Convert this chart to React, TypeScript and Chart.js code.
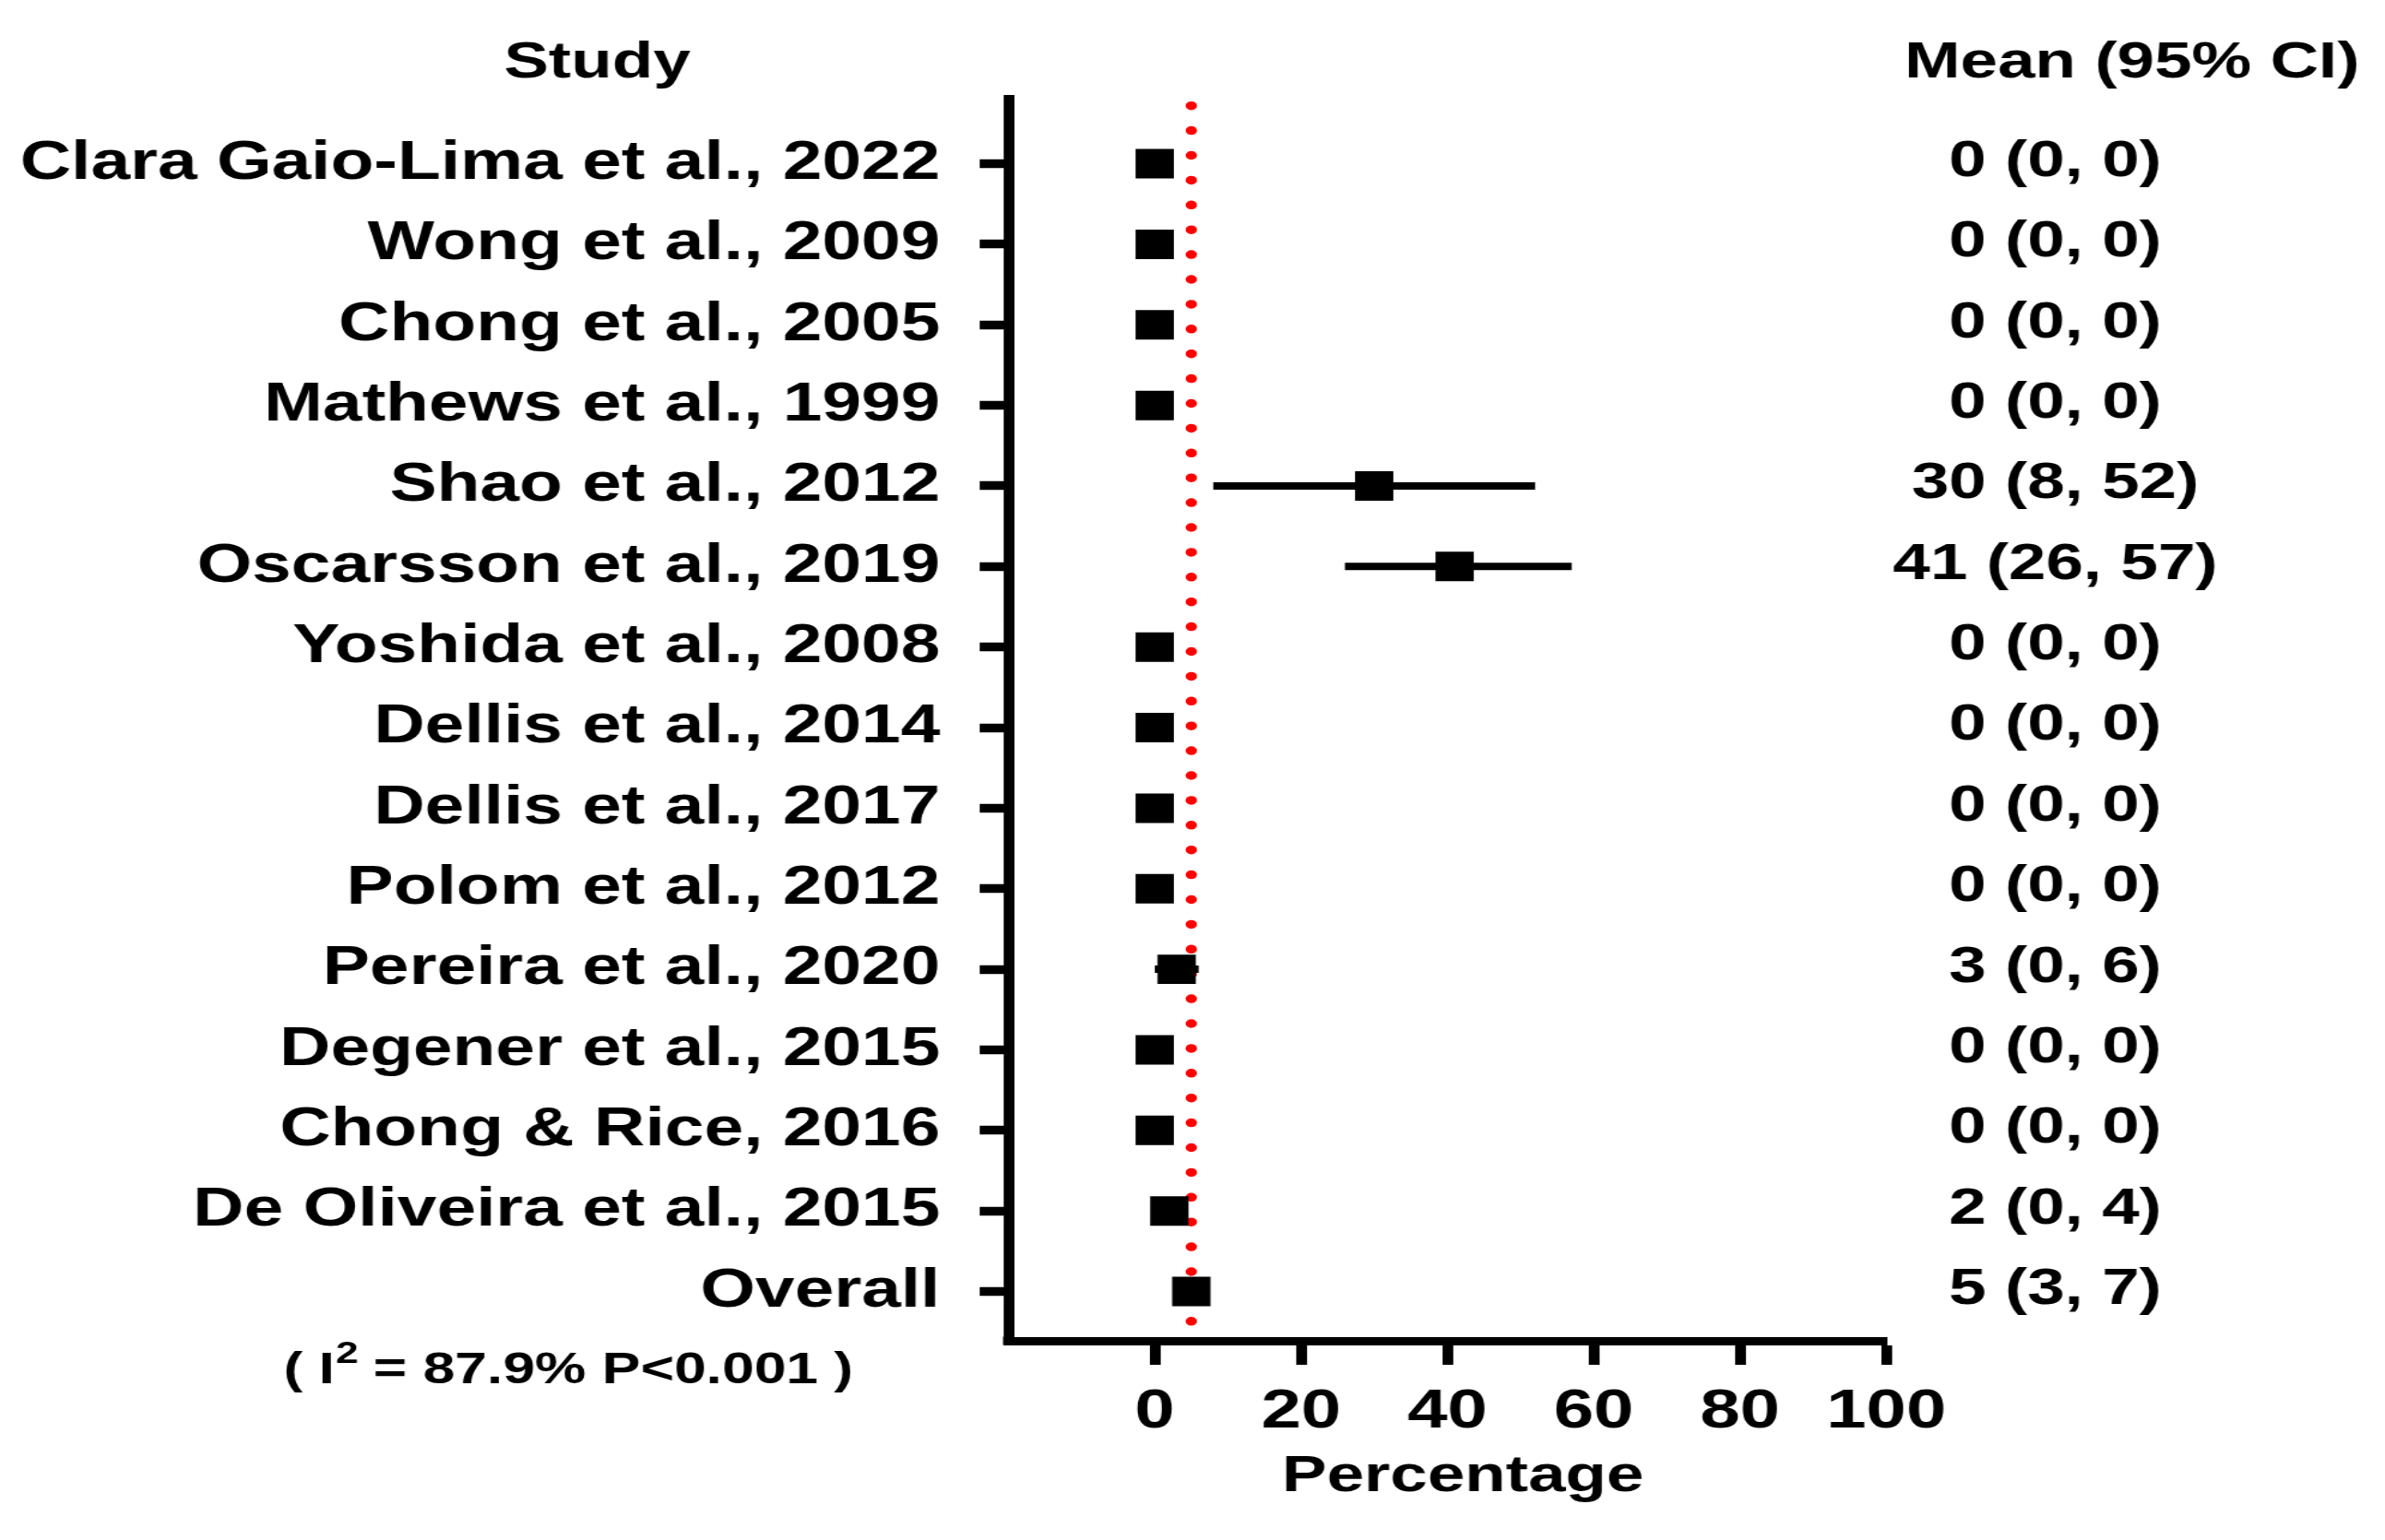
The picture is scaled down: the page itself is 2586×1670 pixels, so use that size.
import React, { useEffect, useRef } from "react";
import { Chart, registerables } from "chart.js";

Chart.register(...registerables);

// ---------- data ----------
const studies: string[] = [
  "Clara Gaio-Lima et al., 2022",
  "Wong et al., 2009",
  "Chong et al., 2005",
  "Mathews et al., 1999",
  "Shao et al., 2012",
  "Oscarsson et al., 2019",
  "Yoshida et al., 2008",
  "Dellis et al., 2014",
  "Dellis et al., 2017",
  "Polom et al., 2012",
  "Pereira et al., 2020",
  "Degener et al., 2015",
  "Chong & Rice, 2016",
  "De Oliveira et al., 2015",
  "Overall",
];
const means: number[] = [0, 0, 0, 0, 30, 41, 0, 0, 0, 0, 3, 0, 0, 2, 5];
const lowerCI: number[] = [0, 0, 0, 0, 8, 26, 0, 0, 0, 0, 0, 0, 0, 0, 3];
const upperCI: number[] = [0, 0, 0, 0, 52, 57, 0, 0, 0, 0, 6, 0, 0, 4, 7];
const xTickValues: number[] = [0, 20, 40, 60, 80, 100];
const xTitle = "Percentage";
const overallMean = 5;
const i2Value = "87.9%";
const pText = "P<0.001";

// ---------- layout ----------
const STRETCH = 1.3; // the reference figure is stretched horizontally
const FULL_W = 2586;
const FULL_H = 1670;
const W = Math.round(FULL_W / STRETCH);
const H = FULL_H;
const FONT = '"Liberation Sans", Arial, Helvetica, sans-serif';

export default function App() {
  const ref = useRef<HTMLCanvasElement | null>(null);

  useEffect(() => {
    const canvas = ref.current;
    if (!canvas) return;

    const ciDatasets: any[] = [];
    studies.forEach((_, i) => {
      if (upperCI[i] > lowerCI[i]) {
        ciDatasets.push({
          label: "ci-" + i,
          data: [
            { x: lowerCI[i], y: i },
            { x: upperCI[i], y: i },
          ],
          showLine: true,
          borderColor: "#000",
          borderWidth: 8,
          pointRadius: 0,
          order: 1,
        });
      }
    });

    const textPlugin = {
      id: "forestText",
      afterDraw(chart: any) {
        const ctx = chart.ctx as CanvasRenderingContext2D;
        const yScale = chart.scales.y;
        const area = chart.chartArea;
        ctx.save();
        ctx.fillStyle = "#000";
        // fill the axis corner
        ctx.fillRect(area.left - 4.5, area.bottom - 4.5, 9, 9);

        // headers
        ctx.font = `bold 56px ${FONT}`;
        ctx.textAlign = "center";
        ctx.textBaseline = "middle";
        ctx.fillText("Study", 498, 69);
        ctx.fillText("Mean (95% CI)", 1778, 69);

        // x axis title
        ctx.font = `bold 56px ${FONT}`;
        ctx.fillText(xTitle, 1220, 1602);

        // right-hand column
        ctx.font = `bold 56px ${FONT}`;
        studies.forEach((_, i) => {
          const y = yScale.getPixelForValue(i) - 2;
          ctx.fillText(`${means[i]} (${lowerCI[i]}, ${upperCI[i]})`, 1714, y);
        });

        // heterogeneity footnote
        const a = "( I";
        const b = "2";
        const c = ` = ${i2Value} ${pText} )`;
        ctx.textAlign = "left";
        ctx.textBaseline = "alphabetic";
        ctx.font = `bold 48px ${FONT}`;
        const wa = ctx.measureText(a).width;
        const wc = ctx.measureText(c).width;
        ctx.font = `bold 34px ${FONT}`;
        const wb = ctx.measureText(b).width;
        const x0 = 474 - (wa + wb + wc) / 2;
        const base = 1500;
        ctx.font = `bold 48px ${FONT}`;
        ctx.fillText(a, x0, base);
        ctx.fillText(c, x0 + wa + wb, base);
        ctx.font = `bold 34px ${FONT}`;
        ctx.fillText(b, x0 + wa + 1, base - 22);
        ctx.restore();
      },
    };

    const chart = new Chart(canvas, {
      type: "scatter",
      data: {
        datasets: [
          {
            label: "overall",
            data: [
              { x: overallMean, y: -0.72 },
              { x: overallMean, y: 14.37 },
            ],
            showLine: true,
            borderColor: "#ff0000",
            borderWidth: 9.5,
            borderDash: [0, 26.9],
            borderCapStyle: "round",
            pointRadius: 0,
            order: 2,
          } as any,
          ...ciDatasets,
          {
            label: "mean",
            data: means.map((m, i) => ({ x: m, y: i })),
            pointStyle: "rect",
            pointRadius: 22.6,
            pointBackgroundColor: "#000",
            pointBorderWidth: 0,
            backgroundColor: "#000",
            borderColor: "#000",
            showLine: false,
            order: 0,
          } as any,
        ],
      },
      options: {
        animation: false,
        responsive: false,
        devicePixelRatio: 1,
        events: [],
        layout: { padding: { top: 107, right: W - 1573, bottom: 0, left: 0 } },
        plugins: {
          legend: { display: false },
          tooltip: { enabled: false },
          title: { display: false },
        },
        scales: {
          x: {
            type: "linear",
            min: -20,
            max: 100,
            afterBuildTicks: (s: any) => {
              s.ticks = xTickValues.map((v) => ({ value: v }));
            },
            afterFit: (s: any) => {
              s.height = 216;
            },
            ticks: {
              padding: 15,
              color: "#000",
              maxRotation: 0,
              autoSkip: false,
              font: { family: FONT, size: 60, weight: "bold" },
            },
            grid: {
              drawOnChartArea: false,
              drawTicks: true,
              tickLength: 26,
              tickWidth: 9,
              tickColor: "#000",
            },
            border: { display: true, color: "#000", width: 9 },
          },
          y: {
            type: "linear",
            reverse: true,
            min: -0.808,
            max: 14.612,
            afterBuildTicks: (s: any) => {
              s.ticks = studies.map((_, i) => ({ value: i }));
            },
            afterFit: (s: any) => {
              s.width = 841;
            },
            ticks: {
              autoSkip: false,
              padding: 33,
              color: "#000",
              font: { family: FONT, size: 59, weight: "bold" },
              callback: (v: any) => studies[Math.round(Number(v))] ?? "",
            },
            grid: {
              drawOnChartArea: false,
              drawTicks: true,
              tickLength: 24,
              tickWidth: 9.5,
              tickColor: "#000",
            },
            border: { display: true, color: "#000", width: 9 },
          },
        },
      } as any,
      plugins: [textPlugin],
    });

    return () => {
      chart.destroy();
    };
  }, []);

  return (
    <div
      style={{
        position: "absolute",
        left: 0,
        top: 0,
        width: FULL_W,
        height: FULL_H,
        background: "#fff",
        overflow: "hidden",
      }}
    >
      <canvas
        ref={ref}
        width={W}
        height={H}
        style={{ width: FULL_W + "px", height: FULL_H + "px", display: "block" }}
      />
    </div>
  );
}
